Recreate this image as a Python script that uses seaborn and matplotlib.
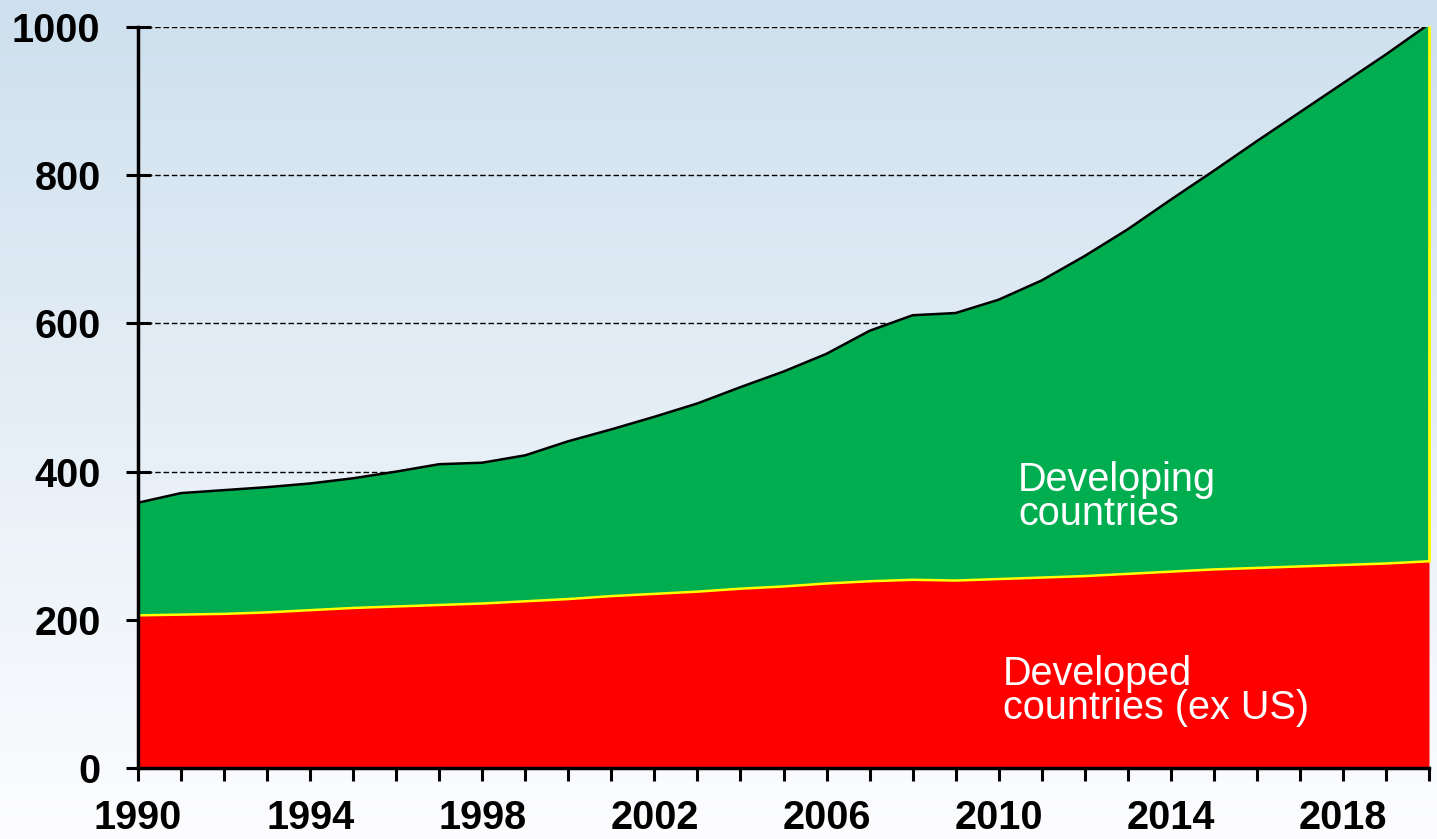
import numpy as np
import pandas as pd
import matplotlib
matplotlib.use("Agg")
import matplotlib.pyplot as plt
import seaborn as sns

years = list(range(1990, 2021))
developed = [206, 207, 208, 210, 213, 216, 218, 220, 222, 225, 228, 232, 235, 238, 242,
             245, 249, 252, 254, 253, 255, 257, 259, 262, 265, 268, 270, 272, 274, 276, 279]
total = [358, 371, 375, 379, 384, 391, 400, 410, 412, 422, 441, 457, 474, 492, 514,
         535, 559, 590, 611, 614, 632, 658, 691, 727, 767, 806, 846, 885, 924, 963, 1004]
developing = [t - d for t, d in zip(total, developed)]
ytick_vals = [0, 200, 400, 600, 800, 1000]
xtick_labels = [1990, 1994, 1998, 2002, 2006, 2010, 2014, 2018]

df = pd.DataFrame({"year": years, "developed": developed,
                   "total": [d + g for d, g in zip(developed, developing)]})

sns.set_theme(style="white")
plt.rcParams["font.family"] = ["Liberation Sans", "DejaVu Sans"]

fig = plt.figure(figsize=(14.37, 8.39), dpi=100)

# gradient background
bg = fig.add_axes([0, 0, 1, 1], zorder=-10)
grad = np.linspace(0, 1, 256).reshape(-1, 1)
top_c = np.array([0.808, 0.878, 0.933])
bot_c = np.array([0.992, 0.992, 1.0])
img = top_c[None, None, :] * (1 - grad[:, :, None]) + bot_c[None, None, :] * grad[:, :, None]
bg.imshow(img, aspect="auto", extent=[0, 1, 0, 1], origin="upper")
bg.axis("off")

ax = fig.add_axes([138 / 1437, 1 - 768 / 839, (1429 - 138) / 1437, (768 - 27) / 839])
ax.set_facecolor("none")

# gridlines
for v in ytick_vals[1:]:
    ax.axhline(v, color="black", lw=1.0, ls=(0, (4, 2)), zorder=1)

ax.fill_between(df["year"], 0, df["developed"], color="#ff0000", lw=0, zorder=2)
ax.fill_between(df["year"], df["developed"], df["total"], color="#00ae4f", lw=0, zorder=2)
sns.lineplot(data=df, x="year", y="developed", color="#ffff00", lw=1.8, ax=ax, zorder=3)
sns.lineplot(data=df, x="year", y="total", color="black", lw=1.8, ax=ax, zorder=3)
ax.plot([years[-1], years[-1]], [developed[-1], 1000], color="#ffff00", lw=2, zorder=3, clip_on=False)

ax.set_xlim(1990, 2020)
ax.set_ylim(0, 1000)
ax.set_xlabel("")
ax.set_ylabel("")

ax.set_xticks(years, minor=True)
ax.set_xticks(xtick_labels)
ax.set_xticklabels([str(v) for v in xtick_labels], fontsize=28.5, fontweight="bold", color="black")
ax.set_yticks(ytick_vals)
ax.set_yticklabels([str(v) for v in ytick_vals], fontsize=28.5, fontweight="bold", color="black")
ax.tick_params(axis="x", which="both", direction="out", length=9, width=2.2, color="black", pad=13, bottom=True)
ax.tick_params(axis="y", which="major", direction="inout", length=18, width=2.2, color="black", pad=18, left=True)

for s in ["top", "right"]:
    ax.spines[s].set_visible(False)
for s in ["left", "bottom"]:
    ax.spines[s].set_color("black")
    ax.spines[s].set_linewidth(2.5)
    ax.spines[s].set_zorder(5)

ax.text(2010.45, 414, "Developing\ncountries", color="white", fontsize=28.5,
        va="top", ha="left", linespacing=0.87, zorder=4)
ax.text(2010.1, 152, "Developed\ncountries (ex US)", color="white", fontsize=28.5,
        va="top", ha="left", linespacing=0.87, zorder=4)

fig.savefig("out.png", dpi=100)
